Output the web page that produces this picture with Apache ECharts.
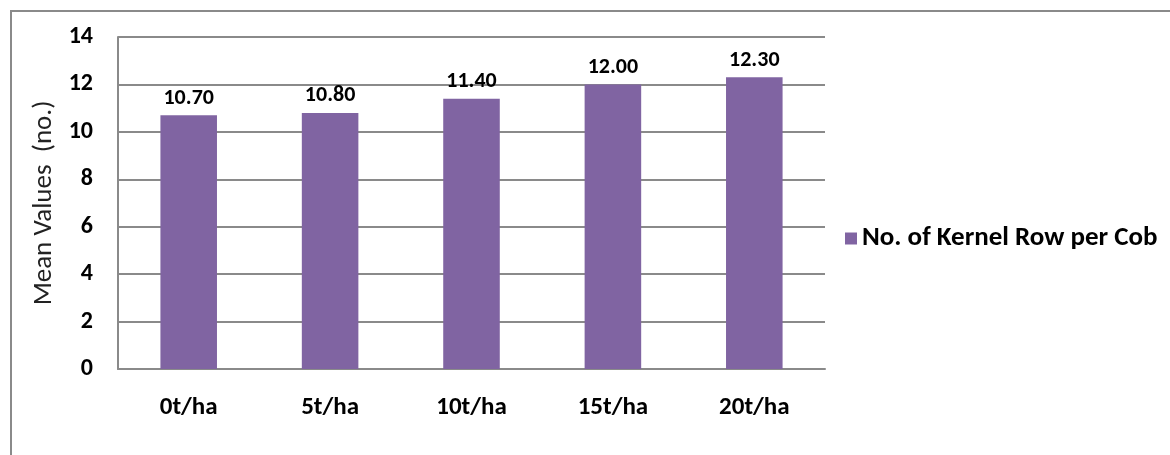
<!DOCTYPE html>
<html>
<head>
<meta charset="utf-8">
<script src="https://cdn.jsdelivr.net/npm/echarts@6/dist/echarts.min.js"></script>
<style>
  html, body { margin: 0; padding: 0; background: #fff; }
  #frame { position: absolute; left: 10px; top: 10px; width: 1170px; height: 460px;
           border-left: 2px solid #8a8a8a; border-top: 2px solid #8a8a8a; box-sizing: border-box; }
  #chart { position: absolute; left: 0; top: 0; width: 1170px; height: 455px; }
</style>
</head>
<body>
<div id="frame"></div>
<div id="chart"></div>
<script>
// Manure rates and the mean number of kernel rows per cob
const categories = ['0t/ha', '5t/ha', '10t/ha', '15t/ha', '20t/ha'];
const kernelRows = [10.70, 10.80, 11.40, 12.00, 12.30];
const seriesName = 'No. of Kernel Row per Cob';
const yTicks = { min: 0, max: 14, interval: 2 };

const font = 'Carlito, "Open Sans", "Liberation Sans", sans-serif';
const chart = echarts.init(document.getElementById('chart'));
chart.setOption({
  animation: false,
  grid: { left: 118, right: 345, top: 37, bottom: 86 },
  legend: {
    data: [seriesName],
    orient: 'vertical',
    left: 840, top: 220,
    icon: 'rect', itemWidth: 12, itemHeight: 12, itemGap: 10,
    textStyle: { fontFamily: font, fontSize: 27, fontWeight: 'bold', color: '#000' }
  },
  xAxis: {
    type: 'category',
    data: categories,
    axisLine: { lineStyle: { color: '#8a8a8a', width: 2 } },
    axisTick: { show: false },
    axisLabel: { margin: 26, fontFamily: font, fontSize: 25, fontWeight: 'bold', color: '#000' }
  },
  yAxis: {
    type: 'value',
    min: yTicks.min, max: yTicks.max, interval: yTicks.interval,
    name: 'Mean Values  (no.)',
    nameLocation: 'middle',
    nameGap: 58,
    nameTextStyle: { fontFamily: font, fontSize: 27, color: '#222' },
    axisLine: { show: true, lineStyle: { color: '#8a8a8a', width: 2 } },
    axisTick: { show: false },
    axisLabel: { margin: 25, fontFamily: font, fontSize: 24, fontWeight: 'bold', color: '#000' },
    splitLine: { lineStyle: { color: '#8a8a8a', width: 2 } }
  },
  series: [{
    name: seriesName,
    type: 'bar',
    data: kernelRows,
    barWidth: '40%',
    itemStyle: { color: '#8064A2' },
    label: {
      show: true, position: 'top', distance: 6,
      formatter: p => p.value.toFixed(2),
      fontFamily: font, fontSize: 22, fontWeight: 'bold', color: '#000'
    }
  }]
});
</script>
</body>
</html>
